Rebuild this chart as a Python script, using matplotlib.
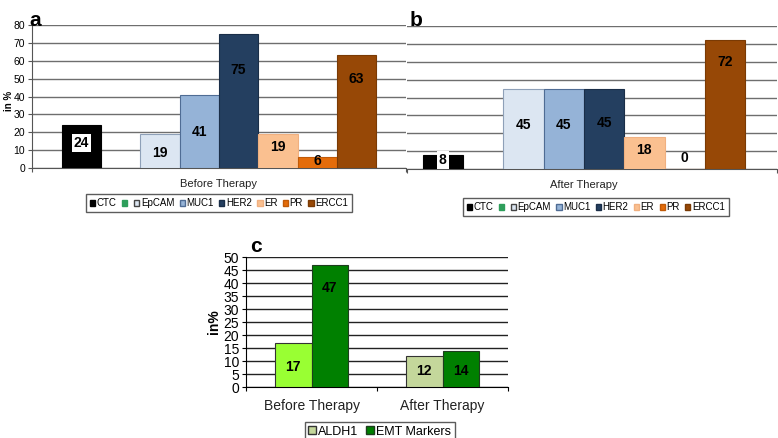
import matplotlib
matplotlib.use("Agg")
import matplotlib.pyplot as plt
from matplotlib.patches import Patch

plt.rcParams['font.family'] = ['Liberation Sans', 'DejaVu Sans']

# panels a and b: marker positivity (in %), second slot is an unlabeled empty series
markers = ["CTC", "", "EpCAM", "MUC1", "HER2", "ER", "PR", "ERCC1"]
before_vals = [24, None, 19, 41, 75, 19, 6, 63]
after_vals = [8, None, 45, 45, 45, 18, 0, 72]
before_label_y = [14, None, 8.5, 20, 55, 11.5, 4, 50]
after_label_y = [5, None, 24.5, 24.5, 25.5, 10.5, 6, 60]

# panel c: stem cell / EMT markers
groups = ["Before Therapy", "After Therapy"]
aldh1 = [17, 12]
emt = [47, 14]
aldh1_label_y = [7.7, 6.1]
emt_label_y = [38, 6.1]

marker_colors = ["#000000", "#2E9E5B", "#DCE6F2", "#95B3D7", "#243F60",
                 "#FAC090", "#E46C0A", "#974806"]
marker_edges = ["#000000", "#2E9E5B", "#8EA0B8", "#4F6C94", "#1A2E48",
                "#F0B080", "#C05A08", "#7A3A04"]
aldh1_colors = ["#99FF33", "#C4D79B"]
emt_color = "#008000"

fig = plt.figure(figsize=(7.78, 4.38), dpi=100)


def marker_panel(rect, vals, label_y, xlabel, show_y, xlim, w):
    ax = fig.add_axes(rect)
    for i, (v, ly) in enumerate(zip(vals, label_y)):
        if v is None:
            continue
        x = (i - 3.5) * w
        ax.bar(x, v, width=w, color=marker_colors[i], edgecolor=marker_edges[i],
               linewidth=0.8, zorder=3)
        if i == 0:
            ax.text(x, ly, str(v), ha="center", va="center", fontsize=10,
                    fontweight="bold", color="black", zorder=4,
                    bbox=dict(boxstyle="square,pad=0.15", fc="white", ec="none"))
        else:
            ax.text(x, ly, str(v), ha="center", va="center", fontsize=10,
                    fontweight="bold", color="black", zorder=4)
    ax.set_xlim(*xlim)
    ax.set_ylim(0, 80)
    ax.set_yticks(range(0, 81, 10))
    ax.yaxis.grid(True, color="#6E6E6E", linewidth=1.0, zorder=0)
    ax.set_axisbelow(True)
    ax.set_xticks(list(xlim))
    ax.set_xticklabels(["", ""])
    ax.tick_params(axis="x", length=3, color="#555555")
    ax.text(0, -6, xlabel, ha="center", va="top", fontsize=8, color="#222222")
    for s in ["top", "right"]:
        ax.spines[s].set_visible(False)
    ax.spines["bottom"].set_color("#555555")
    if show_y:
        ax.spines["left"].set_color("#555555")
        ax.tick_params(axis="y", labelsize=7.5, length=3, color="#555555", pad=2)
    else:
        ax.spines["left"].set_visible(False)
        ax.tick_params(axis="y", left=False, labelleft=False)
    handles = [Patch(facecolor=marker_colors[i], edgecolor=marker_edges[i] if i != 2 else "#444444")
               for i in range(len(markers))]
    leg = ax.legend(handles, markers, loc="upper center", bbox_to_anchor=(0.5, -0.15),
                    ncol=8, fontsize=7, frameon=True, fancybox=False,
                    handlelength=0.55, handleheight=0.55, handletextpad=0.15,
                    columnspacing=0.55, borderpad=0.4)
    leg.get_frame().set_edgecolor("#333333")
    leg.get_frame().set_linewidth(1.0)
    return ax


ax_a = marker_panel([0.0411, 0.6164, 0.4807, 0.3265], before_vals, before_label_y,
                    "Before Therapy", True, (-0.5, 0.5), 0.105)
ax_b = marker_panel([0.5231, 0.6141, 0.4756, 0.3265], after_vals, after_label_y,
                    "After Therapy", False, (-0.478, 0.522), 0.109)
# legend of b sits a bit right of centre in the reference
ax_b.get_legend().set_bbox_to_anchor((0.51, -0.17))
fig.text(0.012, 0.77, "in %", fontsize=7, fontweight="bold", rotation=90,
         ha="center", va="center")
fig.text(0.038, 0.975, "a", fontsize=15, fontweight="bold", va="top")
fig.text(0.526, 0.975, "b", fontsize=15, fontweight="bold", va="top")

# panel c
ax_c = fig.add_axes([0.3162, 0.1164, 0.3368, 0.2968])
bw = 0.28
for i in range(len(groups)):
    ax_c.bar(i - bw / 2, aldh1[i], width=bw, color=aldh1_colors[i], edgecolor="#333333",
             linewidth=0.8, zorder=3)
    ax_c.bar(i + bw / 2, emt[i], width=bw, color=emt_color, edgecolor="#1F3D1F",
             linewidth=0.8, zorder=3)
    ax_c.text(i - bw / 2, aldh1_label_y[i], str(aldh1[i]), ha="center", va="center",
              fontsize=10, fontweight="bold", zorder=4)
    ax_c.text(i + bw / 2, emt_label_y[i], str(emt[i]), ha="center", va="center",
              fontsize=10, fontweight="bold", zorder=4)
ax_c.set_xlim(-0.5, 1.5)
ax_c.set_ylim(0, 50)
ax_c.set_yticks(range(0, 51, 5))
ax_c.yaxis.grid(True, color="#222222", linewidth=1.0, zorder=0)
ax_c.set_axisbelow(True)
ax_c.set_xticks([-0.5, 0.5, 1.5])
ax_c.set_xticklabels(["", "", ""])
ax_c.tick_params(axis="x", length=3)
for i, g in enumerate(groups):
    ax_c.text(i, -4.5, g, ha="center", va="top", fontsize=10, color="#222222")
ax_c.tick_params(axis="y", labelsize=10, length=3, pad=2)
ax_c.set_ylabel("in%", fontsize=10, fontweight="bold", labelpad=2)
for s in ["top", "right"]:
    ax_c.spines[s].set_visible(False)
handles_c = [Patch(facecolor="#C4D79B", edgecolor="#333333"),
             Patch(facecolor=emt_color, edgecolor="#1F3D1F")]
leg_c = ax_c.legend(handles_c, ["ALDH1", "EMT Markers"], loc="upper left",
                    bbox_to_anchor=(0.2, -0.22), ncol=2, fontsize=9, frameon=True,
                    fancybox=False, handlelength=0.6, handleheight=0.6,
                    handletextpad=0.2, columnspacing=0.6, borderpad=0.3)
leg_c.get_frame().set_edgecolor("#333333")
fig.text(0.322, 0.458, "c", fontsize=15, fontweight="bold", va="top")

fig.savefig("out.png", dpi=100)
